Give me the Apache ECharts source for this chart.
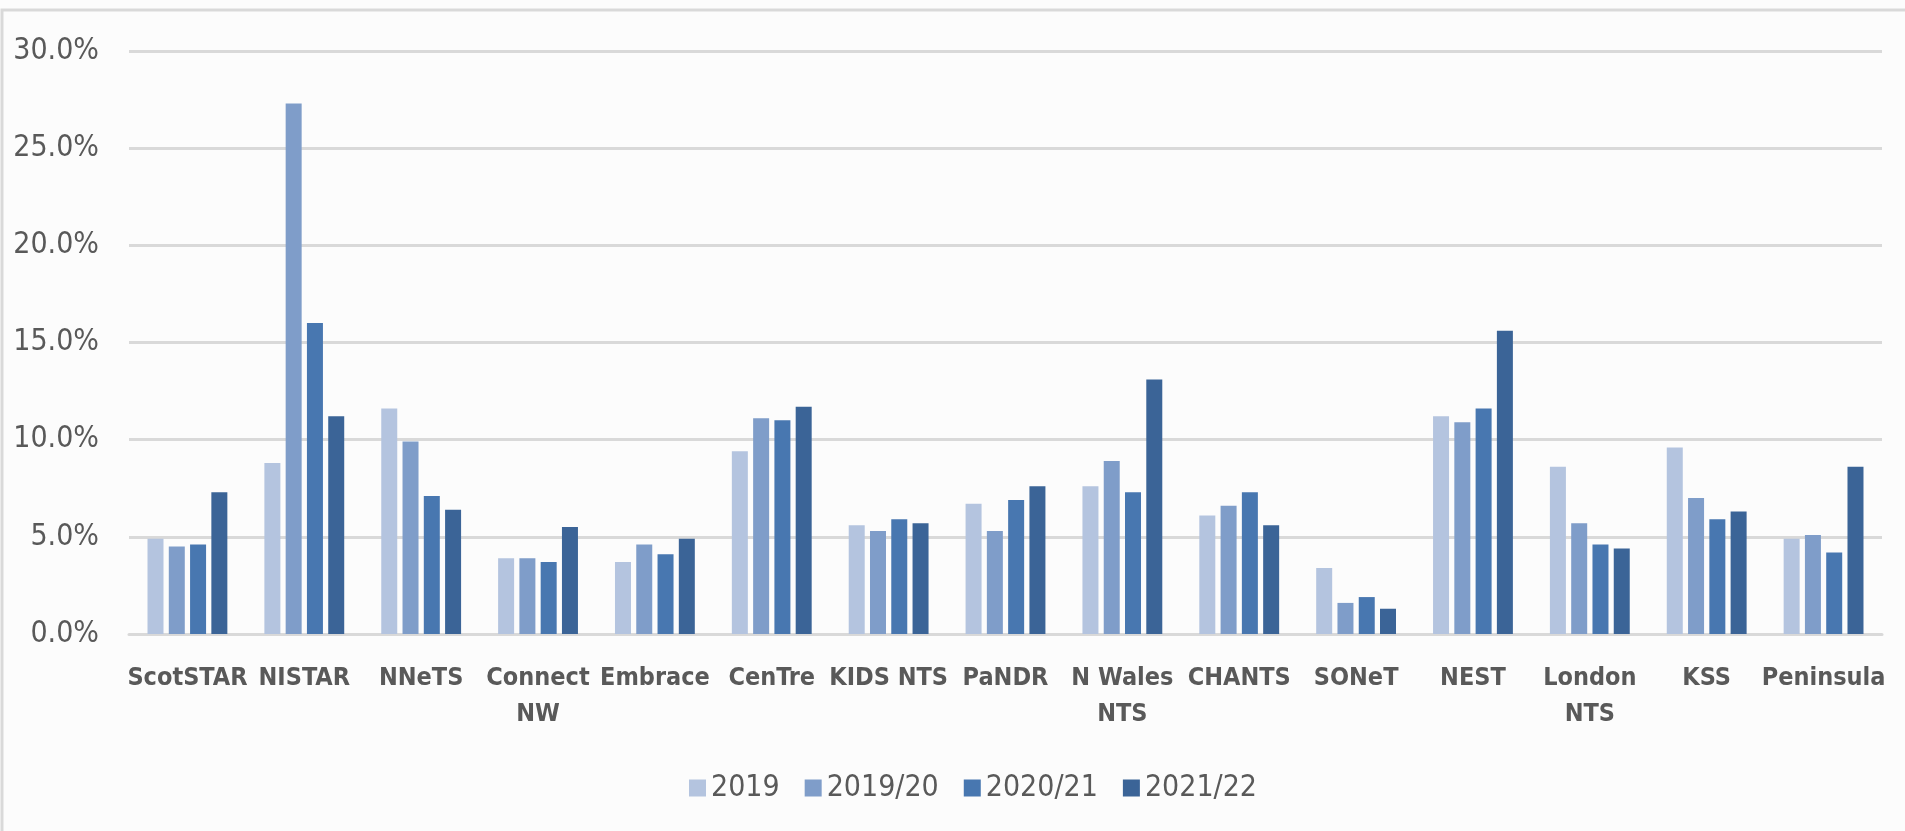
<!DOCTYPE html>
<html>
<head>
<meta charset="utf-8">
<script src="https://cdn.jsdelivr.net/npm/echarts@6/dist/echarts.min.js"></script>
<style>
  html, body { margin: 0; padding: 0; background: #fff; }
  #chart { width: 1905px; height: 831px; }
</style>
</head>
<body>
<div id="chart"></div>
<script>
// categories (line breaks as in the original axis)
const networks = ['ScotSTAR', 'NISTAR', 'NNeTS', 'Connect\nNW', 'Embrace', 'CenTre', 'KIDS NTS',
  'PaNDR', 'N Wales\nNTS', 'CHANTS', 'SONeT', 'NEST', 'London\nNTS', 'KSS', 'Peninsula']

const years = ['2019', '2019/20', '2020/21', '2021/22']

// % values
const v2019 = [4.9, 8.8, 11.6, 3.9, 3.7, 9.4, 5.6, 6.7, 7.6, 6.1, 3.4, 11.2, 8.6, 9.6, 4.9]
const v2019_20 = [4.5, 27.3, 9.9, 3.9, 4.6, 11.1, 5.3, 5.3, 8.9, 6.6, 1.6, 10.9, 5.7, 7.0, 5.1]
const v2020_21 = [4.6, 16.0, 7.1, 3.7, 4.1, 11.0, 5.9, 6.9, 7.3, 7.3, 1.9, 11.6, 4.6, 5.9, 4.2]
const v2021_22 = [7.3, 11.2, 6.4, 5.5, 4.9, 11.7, 5.7, 7.6, 13.1, 5.6, 1.3, 15.6, 4.4, 6.3, 8.6]

const yTicks = [0, 5, 10, 15, 20, 25, 30]

const colors = ['#b4c4df', '#7f9dc9', '#4877b0', '#3b6497']
const seriesData = [v2019, v2019_20, v2020_21, v2021_22]

const font = "'Liberation Sans Narrow', 'Arial Narrow', 'DejaVu Sans Condensed', sans-serif"
const grey = '#595959'
const gridGrey = '#d9d9d9'

var myChart = echarts.init(document.getElementById('chart'), null, { renderer: 'canvas' })

var option = {
  backgroundColor: '#fcfcfc',
  animation: false,
  color: colors,
  graphic: [{
    // outer chart-area frame, only its top and left edges are in view
    type: 'rect',
    shape: { x: 2, y: 10, width: 2000, height: 1000 },
    style: { fill: 'none', stroke: gridGrey, lineWidth: 3 },
    silent: true
  }],
  grid: {
    left: 129,
    right: 23,
    top: 51,
    bottom: 197
  },
  legend: {
    data: years,
    left: 684,
    top: 768,
    itemWidth: 17,
    itemHeight: 17,
    itemGap: 25,
    icon: 'rect',
    textStyle: {
      color: grey,
      fontSize: 30,
      fontFamily: font
    }
  },
  xAxis: {
    type: 'category',
    data: networks,
    axisLine: {
      show: true,
      lineStyle: { color: gridGrey, width: 3 }
    },
    axisTick: { show: false },
    axisLabel: {
      interval: 0,
      margin: 26,
      color: grey,
      fontSize: 25,
      fontWeight: 'bold',
      fontFamily: font,
      lineHeight: 36
    }
  },
  yAxis: {
    type: 'value',
    min: yTicks[0],
    max: yTicks[yTicks.length - 1],
    interval: 5,
    axisLine: { show: false },
    axisTick: { show: false },
    splitLine: {
      lineStyle: { color: gridGrey, width: 3 }
    },
    axisLabel: {
      margin: 30,
      color: grey,
      fontSize: 30,
      fontFamily: font,
      formatter: function (v) { return v.toFixed(1) + '%' }
    }
  },
  series: years.map(function (name, i) {
    return {
      name: name,
      type: 'bar',
      data: seriesData[i],
      barWidth: 16,
      barGap: '33%',
      itemStyle: { color: colors[i] }
    }
  })
}

myChart.setOption(option)
</script>
</body>
</html>
